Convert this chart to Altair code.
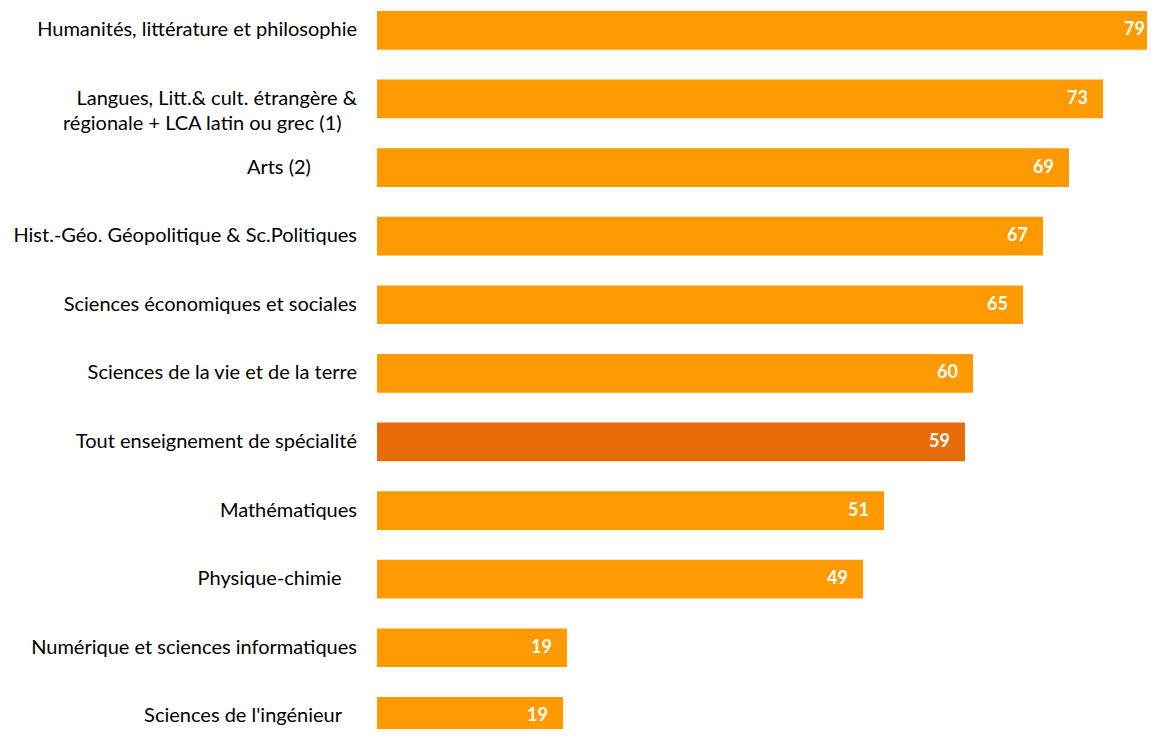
import altair as alt
import pandas as pd

NB = "\u00a0"
END = "\u200b"

categories = [
    "Humanités, littérature et philosophie",
    "Langues, Litt.& cult. étrangère &\nrégionale + LCA latin ou grec (1)" + NB * 3 + END,
    "Arts (2)" + NB * 9 + END,
    "Hist.-Géo. Géopolitique & Sc.Politiques",
    "Sciences économiques et sociales",
    "Sciences de la vie et de la terre",
    "Tout enseignement de spécialité",
    "Mathématiques",
    "Physique-chimie" + NB * 3 + END,
    "Numérique et sciences informatiques",
    "Sciences de l'ingénieur" + NB * 3 + END,
]
values = [78.9, 72.6, 69.2, 66.6, 64.6, 59.6, 58.8, 50.7, 48.6, 19.0, 18.6]
highlight = [False, False, False, False, False, False, True, False, False, False, False]

df = pd.DataFrame({"cat": categories, "value": values, "hl": highlight})

y_enc = alt.Y(
    "cat:N",
    sort=categories,
    axis=None,
    scale=alt.Scale(paddingInner=0.436, paddingOuter=0, range=[0, 724.7]),
)
x_scale = alt.Scale(domain=[0, 77.0], nice=False, zero=True)

bars = alt.Chart(df).mark_bar(clip=True).encode(
    y=y_enc,
    x=alt.X("value:Q", axis=None, scale=x_scale),
    color=alt.Color(
        "hl:N",
        scale=alt.Scale(domain=[False, True], range=["#FF9900", "#E86C0A"]),
        legend=None,
    ),
)

vals = alt.Chart(df).transform_calculate(
    xpos="min(datum.value, 78.3)"
).mark_text(
    align="right", baseline="middle", dx=-15, font="Lato", fontSize=18,
    fontWeight="bold", color="white",
).encode(
    y=y_enc,
    x=alt.X("xpos:Q", axis=None, scale=x_scale),
    text=alt.Text("value:Q", format=".0f"),
)

labels = alt.Chart(df).mark_text(
    align="right", baseline="middle", font="Lato", fontSize=20,
    color="black", lineBreak="\n", lineHeight=25,
).encode(
    y=y_enc,
    x=alt.value(-20),
    text="cat:N",
)

chart = (
    alt.layer(bars, vals, labels)
    .properties(
        width=770,
        height=718,
        autosize=alt.AutoSizeParams(type="none"),
        padding={"left": 369, "top": 3, "right": 0, "bottom": 0},
    )
    .configure_view(stroke=None)
)

chart.save("out.html", embed_options={"renderer": "svg", "actions": False})
